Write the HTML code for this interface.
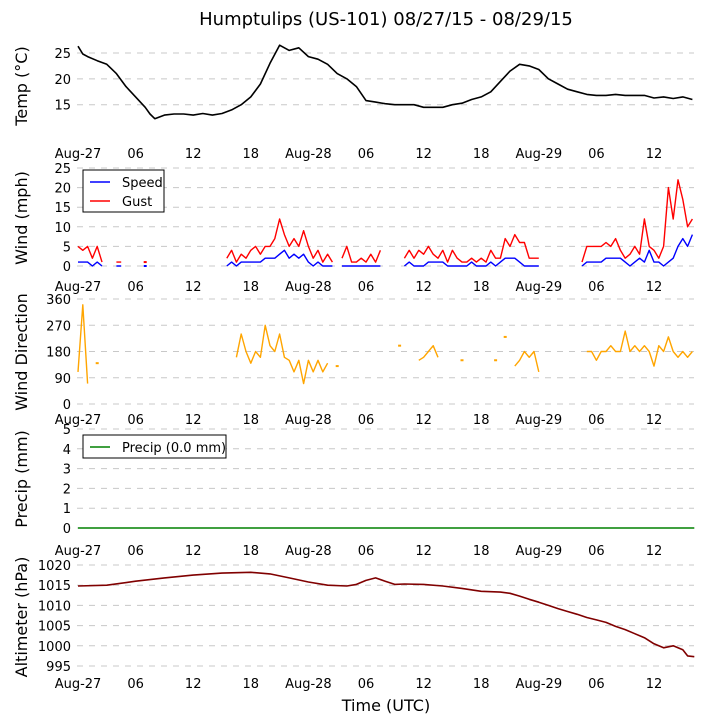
<!DOCTYPE html>
<html><head><meta charset="utf-8"><style>
body{margin:0;background:#fff}
svg{display:block;font-family:"DejaVu Sans","Liberation Sans",sans-serif}
</style></head><body>
<svg id="c" width="705" height="725" xmlns="http://www.w3.org/2000/svg">
<text x="386" y="25" font-size="18" text-anchor="middle">Humptulips (US-101) 08/27/15 - 08/29/15</text>
<text x="386" y="711" font-size="16" text-anchor="middle">Time (UTC)</text>
</svg>
<script>
const xTickHours=[0,6,12,18,24,30,36,42,48,54,60];
const xTickLabels=["Aug-27","06","12","18","Aug-28","06","12","18","Aug-29","06","12"];
const tempHours=[0,0.5,1,2,3,4,5,6,7,7.5,8,9,10,11,12,13,14,15,16,17,18,19,20,21,22,23,24,25,26,27,28,29,30,31,32,33,34,35,36,37,38,39,40,41,42,43,44,45,46,47,48,49,50,51,52,53,54,55,56,57,58,59,60,61,62,63,64];
const tempVals=[26.3,24.8,24.3,23.5,22.8,21,18.5,16.5,14.5,13.2,12.3,13,13.2,13.2,13,13.3,13,13.3,14,15,16.5,19,23,26.5,25.5,26,24.3,23.8,22.8,21,20,18.5,15.8,15.5,15.2,15,15,15,14.5,14.5,14.5,15,15.3,16,16.5,17.5,19.5,21.5,22.8,22.5,21.8,20,19,18,17.5,17,16.8,16.8,17,16.8,16.8,16.8,16.3,16.5,16.2,16.5,16];
// wind at 0.5h steps (index*0.5 = hour)
const N=null;
const gustVals=[5,4,5,2,5,1,N,N,1,1,N,N,N,N,1,N,N,N,N,N,N,N,N,N,N,N,N,N,N,N,N,2,4,1,3,2,4,5,3,5,5,7,12,8,5,7,5,9,5,2,4,1,3,1,N,2,5,1,1,2,1,3,1,4,N,N,N,N,2,4,2,4,3,5,3,2,4,1,4,2,1,1,2,1,2,1,4,2,2,7,5,8,6,6,2,2,2,N,N,N,N,N,N,N,N,1,5,5,5,5,6,5,7,4,2,3,5,3,12,5,4,2,5,20,12,22,17,10,12];
const speedVals=[1,1,1,0,1,0,N,N,0,0,N,N,N,N,0,N,N,N,N,N,N,N,N,N,N,N,N,N,N,N,N,0,1,0,1,1,1,1,1,2,2,2,3,4,2,3,2,3,1,0,1,0,0,0,N,0,0,0,0,0,0,0,0,0,N,N,N,N,0,1,0,0,0,1,1,1,1,0,0,0,0,0,1,0,0,0,1,0,1,2,2,2,1,0,0,0,0,N,N,N,N,N,N,N,N,0,1,1,1,1,2,2,2,2,1,0,1,2,1,4,1,1,0,1,2,5,7,5,8,6,4];
const dirVals=[110,340,70,N,140,N,N,N,N,N,N,N,N,N,N,N,N,N,N,N,N,N,N,N,N,N,N,N,N,N,N,N,N,160,240,180,140,180,160,270,200,180,240,160,150,110,150,70,150,110,150,110,140,N,130,N,N,N,N,N,N,N,N,N,N,N,N,200,N,N,N,150,160,180,200,160,N,N,N,N,150,N,N,N,N,N,N,150,N,230,N,130,150,180,160,180,110,N,N,N,N,N,N,N,N,N,180,180,150,180,180,200,180,180,250,180,200,180,200,180,130,200,180,230,180,160,180,160,180,160];
const precipHours=[0,64.2];
const precipVals=[0,0];
const altHours=[0,3,6,9,12,15,18,20,22,24,26,28,29,30,31,32,33,34,36,38,40,42,44,45,46,47,48,49,50,51,52,53,54,55,56,57,58,59,60,61,62,63,63.5,64.2];
const altVals=[1014.8,1015,1016,1016.8,1017.5,1018,1018.2,1017.8,1016.8,1015.8,1015,1014.8,1015.2,1016.2,1016.8,1016,1015.2,1015.3,1015.2,1014.8,1014.2,1013.5,1013.3,1013,1012.3,1011.5,1010.8,1010,1009.2,1008.5,1007.8,1007,1006.4,1005.8,1004.8,1004,1003,1002,1000.5,999.5,1000,999,997.5,997.3];

const svg=document.getElementById('c');
const NS='http://www.w3.org/2000/svg';
function xS(h){return 78+h*9.6;}
function mk(t,a){const e=document.createElementNS(NS,t);for(const k in a)e.setAttribute(k,a[k]);svg.appendChild(e);return e;}
function panel(name,top,bot,vmin,vmax,ticks,labY,title,titleY){
  const yS=v=>bot-(v-vmin)/(vmax-vmin)*(bot-top);
  ticks.forEach(t=>{
    const g=mk('line',{x1:77,x2:694,y1:yS(t),y2:yS(t),stroke:'#c8c8c8','stroke-dasharray':'6,6','stroke-width':1});
    
    
    const l=mk('text',{x:71,y:yS(t)+5,'font-size':13,'text-anchor':'end'});l.textContent=t;
    
    
  });
  xTickHours.forEach((h,i)=>{
    const l=mk('text',{x:xS(h),y:labY,'font-size':13,'text-anchor':'middle'});l.textContent=xTickLabels[i];
    
    
  });
  const tt=mk('text',{x:0,y:0,'font-size':16,'text-anchor':'middle',transform:`translate(27,${titleY}) rotate(-90)`});tt.textContent=title;
  
  
  return yS;
}
function line(hours,vals,yS,color,name,w){
  let d='';let pen=false;
  vals.forEach((v,i)=>{
    if(v===null){pen=false;return;}
    d+=(pen?'L':'M')+xS(hours[i]).toFixed(1)+','+yS(v).toFixed(1);pen=true;
  });
  const p=mk('path',{d:d,fill:'none',stroke:color,'stroke-width':w||1.5,'stroke-linejoin':'round'});
  
  
  // isolated points
  vals.forEach((v,i)=>{
    if(v===null)return;
    const prev=i>0?vals[i-1]:null,next=i<vals.length-1?vals[i+1]:null;
    if(prev===null&&next===null){
      const r=mk('rect',{x:xS(hours[i])-1.5,y:yS(v)-1,width:3,height:2,fill:color});
      
      
    }
  });
}
const halfHours=gustVals.map((_,i)=>i*0.5);
// Temp
let y=panel('temp',40,128,10.5,27.5,[15,20,25],158,'Temp ($^\\circ$C)',86);
svg.lastChild.textContent='Temp (\u00B0C)';
line(tempHours,tempVals,y,'#000','temp-line',1.6);
// Wind
y=panel('wind',168,266,0,25,[0,5,10,15,20,25],291,'Wind (mph)',218);
line(halfHours,gustVals,y,'#ff0000','gust-line',1.4);
line(halfHours,speedVals,y,'#0000ff','speed-line',1.4);
// Wind dir
y=panel('winddir',299,404,0,360,[0,90,180,270,360],424,'Wind Direction',352);
line(halfHours,dirVals,y,'#ffa500','wind-direction-line',1.4);
// Precip
y=panel('precip',429,528,0,5,[0,1,2,3,4,5],555,'Precip (mm)',479);
line(precipHours,precipVals,y,'#008000','precip-line',1.5);
// Altimeter
y=panel('alt',565,666,995,1020,[995,1000,1005,1010,1015,1020],688,'Altimeter (hPa)',617);
line(altHours,altVals,y,'#800000','altimeter-line',1.6);

// legends
function legend(name,x,yy,w,h,items){
  const b=mk('rect',{x:x,y:yy,width:w,height:h,fill:'#fff',stroke:'#000','stroke-width':1});
  
  
  items.forEach((it,i)=>{
    const cy=yy+12+i*19;
    const l=mk('line',{x1:x+7,x2:x+27,y1:cy,y2:cy,stroke:it[1],'stroke-width':1.5});
    
    
    const t=mk('text',{x:x+39,y:cy+5,'font-size':13});t.textContent=it[0];
    
    
  });
}
legend('wind-legend',83,170,81,42,[['Speed','#0000ff'],['Gust','#ff0000']]);
legend('precip-legend',83,435,143,23,[['Precip (0.0 mm)','#008000']]);
</script>
</body></html>
